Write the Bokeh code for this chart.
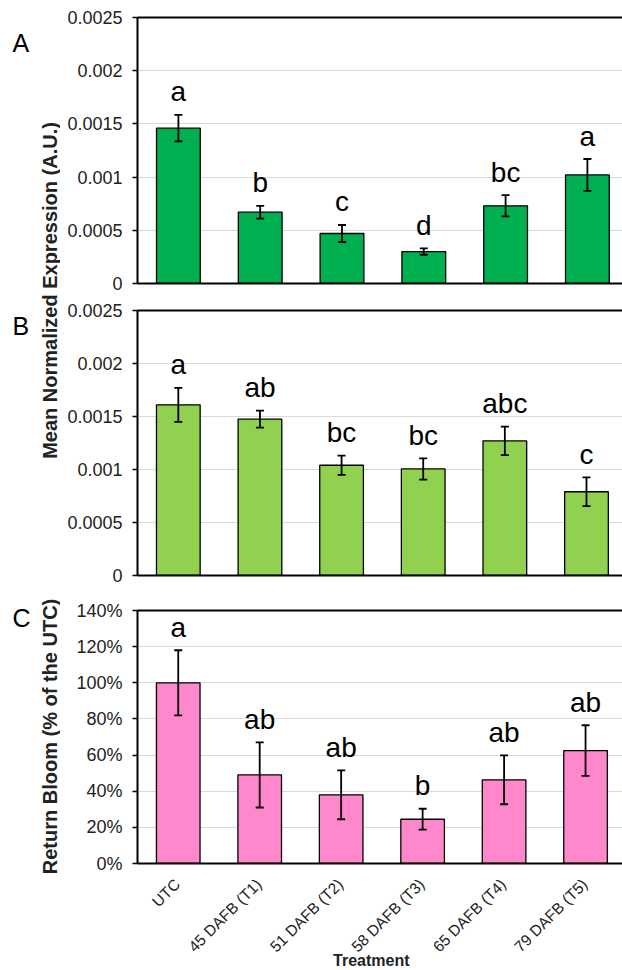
import math
from bokeh.plotting import figure
from bokeh.layouts import row, column
from bokeh.models import (ColumnDataSource, Range1d, FixedTicker, LinearAxis, Whisker,
                          TeeHead, Label, NumeralTickFormatter)
from bokeh.embed import file_html
from bokeh.resources import INLINE

# ---------------- data ----------------
categories = ["UTC", "45 DAFB (T1)", "51 DAFB (T2)", "58 DAFB (T3)", "65 DAFB (T4)", "79 DAFB (T5)"]

expr_a = [0.00146, 0.00067, 0.00047, 0.00030, 0.00073, 0.00102]
expr_a_err = [0.000125, 0.00006, 0.00008, 0.00003, 0.0001, 0.00015]
expr_a_letters = ["a", "b", "c", "d", "bc", "a"]

expr_b = [0.00161, 0.001475, 0.00104, 0.001005, 0.00127, 0.00079]
expr_b_err = [0.00016, 0.00008, 0.00009, 0.0001, 0.000135, 0.000135]
expr_b_letters = ["a", "ab", "bc", "bc", "abc", "c"]

bloom_c = [1.00, 0.49, 0.38, 0.245, 0.463, 0.625]
bloom_c_err = [0.18, 0.18, 0.135, 0.058, 0.135, 0.14]
bloom_c_letters = ["a", "ab", "ab", "b", "ab", "ab"]

expr_ticks = [0, 0.0005, 0.001, 0.0015, 0.002, 0.0025]
bloom_ticks = [0, 0.2, 0.4, 0.6, 0.8, 1.0, 1.2, 1.4]

y_title_expr = "Mean Normalized Expression (A.U.)"
y_title_bloom = "Return Bloom (% of the UTC)"
x_title = "Treatment"

FONT = "Liberation Sans"
TXT = "#222222"
PX_PER_CAT = 81.8
LEFT_COL = 60
PANEL_W = 622 - LEFT_COL
IDX = list(range(len(categories)))


def make_panel(vals, errs, letters, color, ticks, fmt, height, top, bottom, left):
    frame_w = PANEL_W - left
    x_end = -0.5 + frame_w / PX_PER_CAT
    p = figure(width=PANEL_W, height=height, output_backend="svg", toolbar_location=None,
               x_range=Range1d(-0.5, x_end), y_range=Range1d(ticks[0], ticks[-1]),
               min_border_left=left, min_border_right=0, min_border_top=top,
               min_border_bottom=bottom)
    p.outline_line_color = None
    p.background_fill_color = "white"
    p.border_fill_color = "white"
    src = ColumnDataSource(dict(
        x=IDX, top=vals,
        upper=[v + e for v, e in zip(vals, errs)],
        lower=[v - e for v, e in zip(vals, errs)],
        lab=letters,
    ))
    p.vbar(x="x", top="top", width=0.535, source=src, fill_color=color,
           line_color="black", line_width=1.3)
    w = Whisker(base="x", upper="upper", lower="lower", source=src, level="overlay",
                line_color="black", line_width=1.8,
                upper_head=TeeHead(size=8, line_color="black", line_width=1.8),
                lower_head=TeeHead(size=8, line_color="black", line_width=1.8))
    p.add_layout(w)
    p.text(x="x", y="upper", text="lab", source=src, text_align="center",
           text_baseline="alphabetic", y_offset=-23, text_font_size="28px",
           text_font={"value": FONT}, text_color="black")

    # y axis
    yax = p.yaxis[0]
    yax.ticker = FixedTicker(ticks=ticks)
    yax.formatter = NumeralTickFormatter(format=fmt)
    yax.axis_line_width = 2
    yax.axis_line_color = "black"
    yax.major_tick_out = 5
    yax.major_tick_in = 0
    yax.major_tick_line_width = 1.5
    yax.minor_tick_line_color = None
    yax.major_label_standoff = 10
    yax.major_label_text_font = FONT
    yax.major_label_text_font_size = "18px"
    yax.major_label_text_color = TXT

    p.ygrid.ticker = FixedTicker(ticks=ticks[1:])
    p.ygrid.grid_line_color = "#D9D9D9"
    p.ygrid.grid_line_width = 1.2
    p.xgrid.visible = False

    # x axis: line only (category labels are drawn in a strip below)
    xax = p.xaxis[0]
    xax.axis_line_width = 2
    xax.axis_line_color = "black"
    xax.major_tick_out = 0
    xax.major_tick_in = 0
    xax.minor_tick_line_color = None
    xax.ticker = FixedTicker(ticks=[])
    xax.major_label_text_font_size = "0px"

    # top frame line
    topax = LinearAxis(ticker=FixedTicker(ticks=[]), axis_line_width=2, axis_line_color="black",
                       major_tick_out=0, major_tick_in=0, minor_tick_out=0, minor_tick_in=0,
                       major_label_text_font_size="0px")
    p.add_layout(topax, "above")
    return p


pA = make_panel(expr_a, expr_a_err, expr_a_letters, "#00B050", expr_ticks, "0.[0000]",
                295, 17, 12, 77)
pB = make_panel(expr_b, expr_b_err, expr_b_letters, "#92D050", expr_ticks, "0.[0000]",
                300, 15, 20, 76)
pC = make_panel(bloom_c, bloom_c_err, bloom_c_letters, "#FF88CC", bloom_ticks, "0%",
                280, 15, 12, 75)

# strip below panel C: rotated category labels and x-axis title, sharing C's x scale
STRIP_H = 95
pX = figure(width=PANEL_W, height=STRIP_H, output_backend="svg", toolbar_location=None,
            x_range=pC.x_range, y_range=Range1d(0, STRIP_H),
            x_axis_location=None, y_axis_location=None,
            min_border_left=75, min_border_right=0, min_border_top=0, min_border_bottom=0)
pX.outline_line_color = None
pX.grid.visible = False
xsrc = ColumnDataSource(dict(x=IDX, y=[STRIP_H] * len(IDX), lab=categories))
pX.text(x="x", y="y", text="lab", source=xsrc, angle=math.pi / 4,
        text_align="right", text_baseline="top", x_offset=-7, y_offset=0,
        text_font_size="15.5px", text_font={"value": FONT}, text_color=TXT)
pX.add_layout(Label(x=2.37, y=10, text=x_title, text_align="center", text_baseline="middle",
                    text_font=FONT, text_font_style="bold", text_font_size="16px",
                    text_color=TXT))

# left column: panel letters and y-axis titles
H = 970
p0 = figure(width=LEFT_COL, height=H, output_backend="svg", toolbar_location=None,
            x_range=Range1d(0, LEFT_COL), y_range=Range1d(0, H),
            x_axis_location=None, y_axis_location=None,
            min_border_left=0, min_border_right=0, min_border_top=0, min_border_bottom=0)
p0.outline_line_color = None
p0.grid.visible = False

for letter, ybase in (("A", 42), ("B", 325), ("C", 617)):
    p0.add_layout(Label(x=12, y=H - ybase, text=letter, text_align="left",
                        text_baseline="alphabetic", text_font=FONT,
                        text_font_size="25px", text_color="black"))

for title, yc in ((y_title_expr, 290), (y_title_bloom, 736)):
    p0.add_layout(Label(x=49, y=H - yc, text=title, angle=math.pi / 2,
                        text_align="center", text_baseline="middle", text_font=FONT,
                        text_font_style="bold", text_font_size="20px", text_color=TXT))

layout = row(p0, column(pA, pB, pC, pX, spacing=0), spacing=0)

open("out.html", "w").write(file_html(layout, INLINE))
